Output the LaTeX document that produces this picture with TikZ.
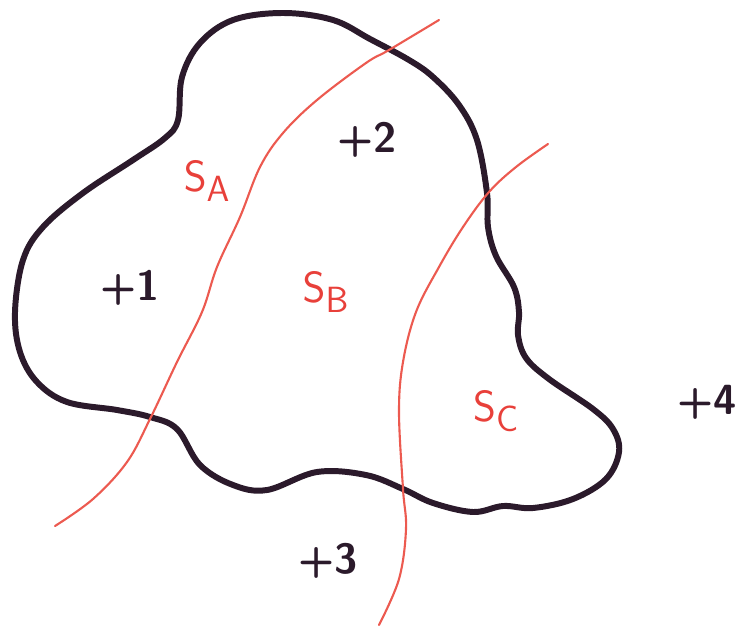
\documentclass[tikz,border=0pt]{standalone}
\usepackage{tikz}
\usetikzlibrary{positioning}
\usepackage{xcolor}
\definecolor{marker}{HTML}{2B1A2B}
\definecolor{redpen}{HTML}{EC5A50}
\definecolor{redlabel}{HTML}{E8403A}
\newcommand{\Sreg}[1]{$\mathsf{S}_{\mathsf{#1}}$}

\begin{document}
\begin{tikzpicture}[
  x=0.02cm, y=-0.02cm,
  outline/.style={draw=marker, line width=3.4pt, line cap=round, line join=round},
  border/.style={draw=redpen, line width=1.2pt, line cap=round},
  region/.style={text=redlabel, font=\fontsize{28}{32}\selectfont\sffamily},
  charge/.style={text=marker, font=\fontsize{24}{28}\selectfont\sffamily\bfseries},
  every node/.style={inner sep=0pt}
]
\useasboundingbox (0,0) rectangle (736,625);

%% Closed surface
\draw[outline] plot[smooth cycle, tension=0.6] coordinates {
  (283,13) (333,20) (370,39) (409,60) (433,77) (459,105)
  (477,140) (487,193) (488,227) (496,256) (514,287) (519,312) (518,335)
  (526,358) (549,379) (593,409) (613,429) (619,452) (606,479) (573,499)
  (533,508) (503,506) (473,512) (433,503) (403,489) (366,475) (317,472)
  (267,490) (233,485) (200,465) (177,429) (150,417) (117,410) (67,402)
  (37,382) (20,352) (15,312) (23,260) (43,227) (83,193) (133,160)
  (165,138) (178,120) (182,77) (200,43) (233,20)};

%% Dividing lines
\draw[border] plot[smooth, tension=0.6] coordinates {
  (439,20) (389,50) (366,63) (317,100) (283,133) (260,167) (240,217)
  (217,267) (202,312) (177,362) (150,419) (127,462) (93,499) (55,526)};
\draw[border] plot[smooth, tension=0.6] coordinates {
  (548,144) (516,167) (489,192) (463,227) (439,267) (416,312) (403,362)
  (399,412) (403,489) (406,529) (399,579) (379,625)};

%% Surface pieces
\node[region] (sA) at (207,181) {\Sreg{A}};
\node[region] (sB) at (326,292) {\Sreg{B}};
\node[region] (sC) at (496,411) {\Sreg{C}};

%% Charges
\node[charge] (q1) at (130,288) {+1};
\node[charge] (q2) at (367,140) {+2};
\node[charge] (q3) at (328,561) {+3};
\node[charge] (q4) at (707,402) {+4};

\end{tikzpicture}
\end{document}
